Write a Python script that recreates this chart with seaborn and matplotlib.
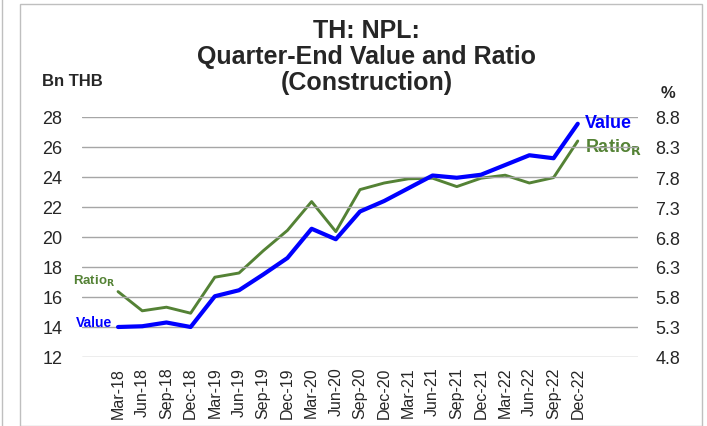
import numpy as np
import pandas as pd
import matplotlib
matplotlib.use("Agg")
import matplotlib.pyplot as plt
import seaborn as sns
from matplotlib.patches import Rectangle

# === data ===
quarters = ["Mar-18", "Jun-18", "Sep-18", "Dec-18", "Mar-19", "Jun-19", "Sep-19", "Dec-19",
            "Mar-20", "Jun-20", "Sep-20", "Dec-20", "Mar-21", "Jun-21", "Sep-21", "Dec-21",
            "Mar-22", "Jun-22", "Sep-22", "Dec-22"]
value_bn = [14.0, 14.05, 14.3, 14.0, 16.05, 16.45, 17.5, 18.6,
            20.55, 19.85, 21.7, 22.4, 23.25, 24.1, 23.95, 24.15,
            24.8, 25.45, 25.25, 27.55]
ratio_pct = [5.89, 5.57, 5.63, 5.53, 6.13, 6.2, 6.57, 6.91,
             7.39, 6.89, 7.59, 7.7, 7.77, 7.78, 7.64, 7.78,
             7.83, 7.7, 7.79, 8.4]
left_ticks = [12, 14, 16, 18, 20, 22, 24, 26, 28]
right_ticks = [4.8, 5.3, 5.8, 6.3, 6.8, 7.3, 7.8, 8.3, 8.8]

df = pd.DataFrame({"idx": np.arange(len(quarters)), "Value": value_bn, "Ratio": ratio_pct})

BLUE = "#0000FF"
GREEN = "#548235"
GRID = "#A6A6A6"

sns.set_style("white")
plt.rcParams["font.family"] = ["Liberation Sans", "DejaVu Sans"]

fig = plt.figure(figsize=(7.07, 4.27), dpi=100)
W, H = 707, 427
ax = fig.add_axes([82 / W, 1 - 358 / H, (638 - 82) / W, (358 - 118) / H])
ax2 = ax.twinx()

sns.lineplot(data=df, x="idx", y="Value", ax=ax, color=BLUE, linewidth=3.0, zorder=3)
sns.lineplot(data=df, x="idx", y="Ratio", ax=ax2, color=GREEN, linewidth=2.1, zorder=2)

ax.set_xlim(-1.49, 21.49)
ax.set_ylim(12, 28)
ax2.set_ylim(4.8, 8.8)
ax.set_yticks(left_ticks)
ax2.set_yticks(right_ticks)
ax2.set_yticklabels([f"{t:.1f}" for t in right_ticks])
ax.set_xticks(df["idx"])
ax.set_xticklabels(quarters, rotation=90, fontsize=11.5)
ax.tick_params(axis="x", length=0, pad=7)
ax.tick_params(axis="y", length=0, labelsize=13, pad=14)
ax2.tick_params(axis="y", length=0, labelsize=13, pad=12.5)
ax.set_xlabel("")
ax.set_ylabel("")
ax2.set_ylabel("")

for t in left_ticks:
    ax.axhline(t, color=GRID, linewidth=1, zorder=0)
for a in (ax, ax2):
    for s in a.spines.values():
        s.set_visible(False)
ax2.set_zorder(ax.get_zorder() - 1)
ax.patch.set_visible(False)
ax.set_zorder(ax2.get_zorder() + 1)

# in-chart labels
ax.text(19.3, 27.6, "Value", color=BLUE, fontsize=13, fontweight="bold", va="center")
ax2.text(19.3, 8.32, r"Ratio$_\mathbf{R}$", color=GREEN, fontsize=13, fontweight="bold", va="center")
ax2.text(-0.12, 6.08, r"Ratio$_\mathbf{R}$", color=GREEN, fontsize=9.5, fontweight="bold",
         va="center", ha="right")
ax.text(-0.26, 14.33, "Value", color=BLUE, fontsize=10, fontweight="bold", va="center", ha="right")

fig.text(366.5 / W, 1 - 57 / H, "TH: NPL:\nQuarter-End Value and Ratio\n(Construction)",
         ha="center", va="center", fontsize=18, fontweight="bold", linespacing=1.12)
fig.text(42 / W, 1 - 81 / H, "Bn THB", fontsize=12, fontweight="bold", va="center")
fig.text(668 / W, 1 - 94 / H, "%", fontsize=12, fontweight="bold", va="center", ha="center")

fig.patches.append(Rectangle((20 / W, 0), (702 - 20) / W, 1 - 5 / H, transform=fig.transFigure,
                             fill=False, edgecolor="#BFBFBF", linewidth=1))
fig.patches.append(Rectangle((2 / W, 0), 0, 1, transform=fig.transFigure,
                             fill=False, edgecolor="#BFBFBF", linewidth=1))

fig.savefig("out.png", dpi=100)
